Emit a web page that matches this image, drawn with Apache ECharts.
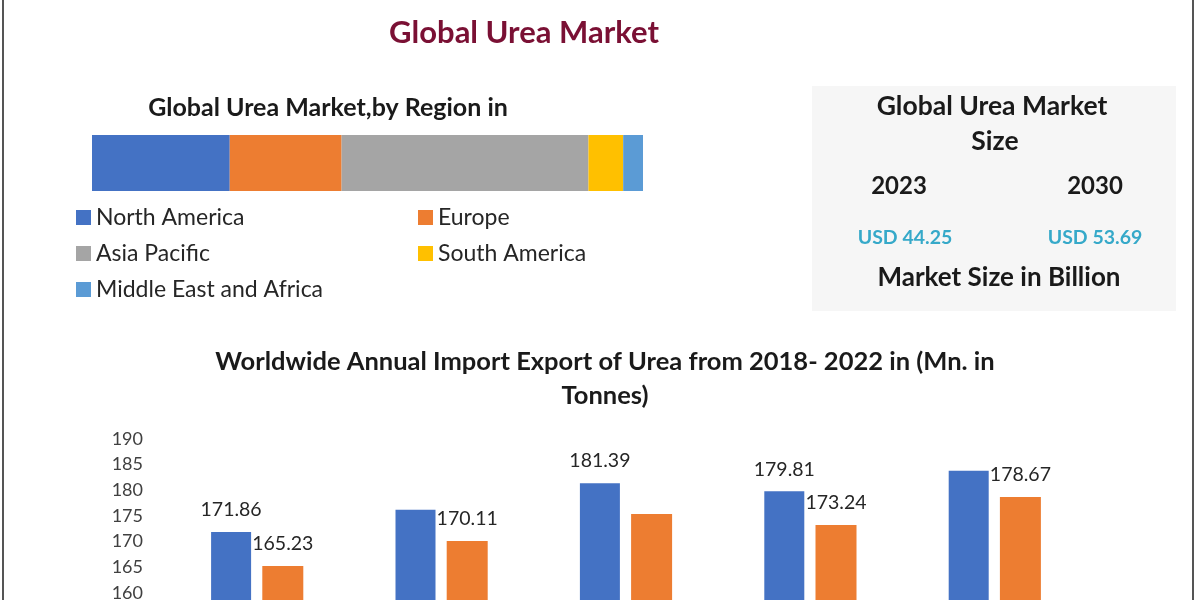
<!DOCTYPE html>
<html>
<head>
<meta charset="utf-8">
<script src="https://cdn.jsdelivr.net/npm/echarts@6/dist/echarts.min.js"></script>
<style>
html,body{margin:0;padding:0;background:#fff;}
#c{width:1200px;height:600px;}
</style>
</head>
<body>
<div id="c"></div>
<script>
// ---- data ----
var regions = ['North America', 'Europe', 'Asia Pacific', 'South America', 'Middle East and Africa'];
var regionShare = [25.0, 20.3, 44.8, 6.3, 3.6];
var regionColors = ['#4472C4', '#ED7D31', '#A5A5A5', '#FFC000', '#5B9BD5'];

var years = ['2018', '2019', '2020', '2021', '2022'];
var importValues = [171.86, 176.2, 181.39, 179.81, 183.8];
var exportValues = [165.23, 170.11, 175.4, 173.24, 178.67];
var importLabeled = [true, false, true, true, false];
var exportLabeled = [true, true, false, true, true];
var yMin = 150, yMax = 190, yInterval = 5;

var marketYears = ['2023', '2030'];
var marketValues = ['USD 44.25', 'USD 53.69'];

var FONT = 'Lato, "Open Sans", sans-serif';

function labeled(values, flags) {
  return values.map(function (v, i) {
    return { value: v, label: { show: flags[i] } };
  });
}

var chart = echarts.init(document.getElementById('c'), null, { renderer: 'canvas' });

var regionSeries = regions.map(function (r, i) {
  return {
    name: r, type: 'bar', stack: 'share',
    xAxisIndex: 1, yAxisIndex: 1,
    barWidth: '100%',
    itemStyle: { color: regionColors[i] },
    data: [regionShare[i]]
  };
});

var legendPos = [
  { left: 76, top: 206 }, { left: 418, top: 206 },
  { left: 76, top: 242 }, { left: 418, top: 242 },
  { left: 76, top: 278 }
];
var legends = regions.map(function (r, i) {
  return {
    data: [r], left: legendPos[i].left, top: legendPos[i].top,
    padding: 0,
    icon: 'rect', itemWidth: 15, itemHeight: 15, itemGap: 8,
    textStyle: { fontFamily: FONT, fontSize: 23, color: '#262626' },
    selectedMode: false
  };
});

function t(text, x, y, size, color, weight) {
  return { text: text, left: x, top: y, textAlign: 'center', padding: 0,
    textStyle: { fontFamily: FONT, fontSize: size, fontWeight: weight || 'bold', color: color || '#1a1a1a' } };
}

var option = {
  backgroundColor: '#ffffff',
  animation: false,
  textStyle: { fontFamily: FONT },
  title: [
    t('Global Urea Market', 524, 17, 31, '#7A1034'),
    t('Global Urea Market,by Region in', 328, 95, 25),
    t('Worldwide Annual Import Export of Urea from 2018- 2022 in (Mn. in', 605, 349, 25.5),
    t('Tonnes)', 605, 383, 25.5),
    t('Global Urea Market', 992, 93, 26.5),
    t('Size', 995, 128, 26.5),
    t(marketYears[0], 899, 174, 24),
    t(marketYears[1], 1095, 174, 24),
    t(marketValues[0], 905, 228, 19.5, '#36A9C9'),
    t(marketValues[1], 1095, 228, 19.5, '#36A9C9'),
    t('Market Size in Billion', 999, 265, 26)
  ],
  legend: legends,
  graphic: [
    { type: 'rect', z: -10, shape: { x: 812, y: 86, width: 364, height: 225 }, style: { fill: '#F6F6F6' } },
    { type: 'rect', z: 10, shape: { x: 2, y: 0, width: 2, height: 600 }, style: { fill: '#555555' } },
    { type: 'rect', z: 10, shape: { x: 1192, y: 0, width: 2, height: 600 }, style: { fill: '#555555' } }
  ],
  grid: [
    { left: 165, top: 439, width: 922, height: (yMax - yMin) * 5.13, outerBoundsMode: 'none', containLabel: false },
    { left: 92, top: 135, width: 551, height: 56, outerBoundsMode: 'none' }
  ],
  xAxis: [
    { type: 'category', gridIndex: 0, data: years,
      axisLine: { show: false }, axisTick: { show: false },
      axisLabel: { fontFamily: FONT, fontSize: 18, color: '#404040' } },
    { type: 'value', gridIndex: 1, min: 0, max: 100, show: false }
  ],
  yAxis: [
    { type: 'value', gridIndex: 0, min: yMin, max: yMax, interval: yInterval,
      axisLine: { show: false }, axisTick: { show: false }, splitLine: { show: false },
      axisLabel: { fontFamily: FONT, fontSize: 18, color: '#404040', margin: 22 } },
    { type: 'category', gridIndex: 1, data: ['Region'], show: false }
  ],
  series: [
    { name: 'Import', type: 'bar', xAxisIndex: 0, yAxisIndex: 0,
      barWidth: 40, barGap: '28%',
      itemStyle: { color: '#4472C4' },
      label: { position: 'top', distance: 12, fontFamily: FONT, fontSize: 19.5, color: '#262626' },
      data: labeled(importValues, importLabeled) },
    { name: 'Export', type: 'bar', xAxisIndex: 0, yAxisIndex: 0,
      barWidth: 41, barGap: '28%',
      itemStyle: { color: '#ED7D31' },
      label: { position: 'top', distance: 12, fontFamily: FONT, fontSize: 19.5, color: '#262626' },
      data: labeled(exportValues, exportLabeled) }
  ].concat(regionSeries)
};

chart.setOption(option);
</script>
</body>
</html>
